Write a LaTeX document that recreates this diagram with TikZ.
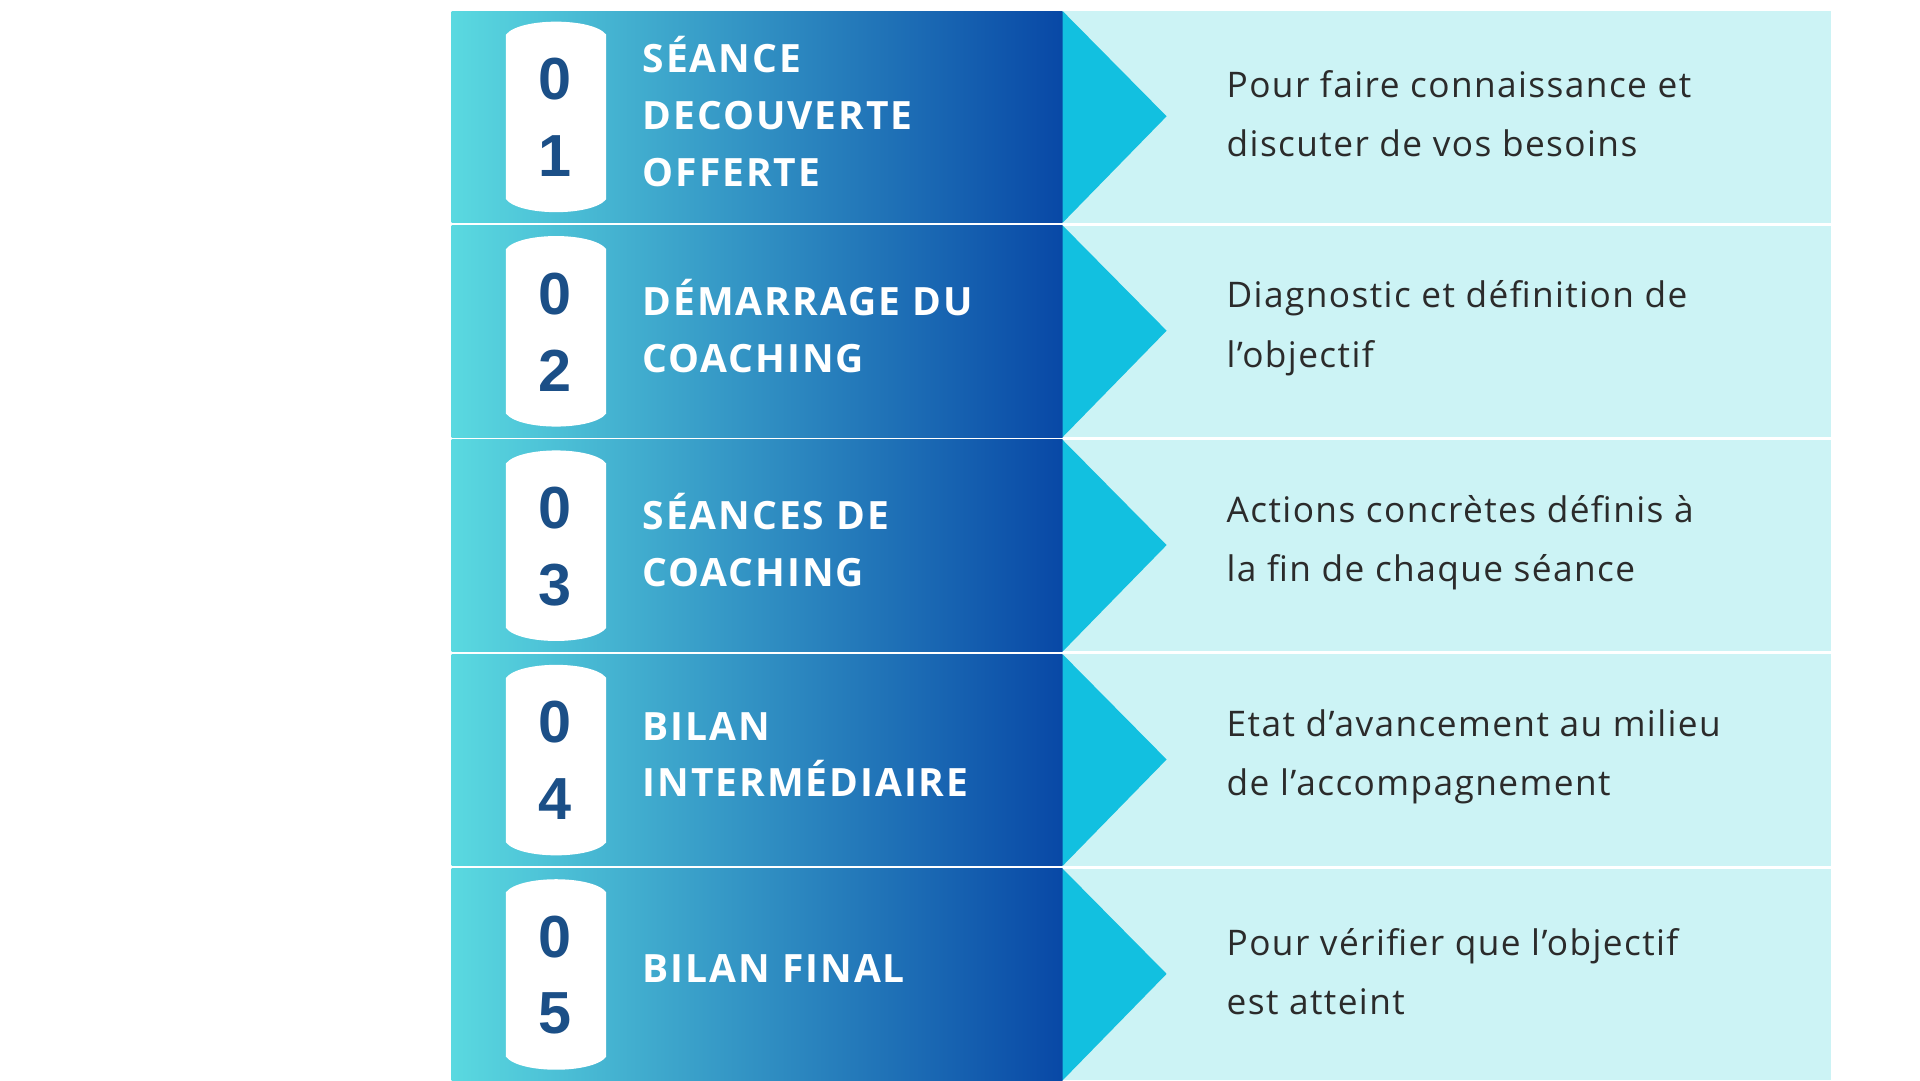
\documentclass[tikz,border=0pt]{standalone}
\usepackage{fontspec}
\setmainfont[LetterSpace=4]{Open Sans}
\newfontfamily\titlefont[LetterSpace=5]{Open Sans}
\newfontfamily\digitfont{Liberation Sans}
\definecolor{bandleft}{HTML}{5AD9E0}
\definecolor{bandright}{HTML}{0848A6}
\definecolor{tipcol}{HTML}{12C0E0}
\definecolor{panelcol}{HTML}{CCF3F5}
\definecolor{digitcol}{HTML}{1B4F87}
\definecolor{desccol}{HTML}{2B2B2B}
\tikzset{
  titletext/.style={anchor=west, text=white, font=\titlefont\bfseries\fontsize{31.5}{46}\selectfont, align=left},
  desctext/.style={anchor=west, text=desccol, font=\fontsize{28.5}{48}\selectfont, align=left},
  digittext/.style={text=digitcol, font=\digitfont\bfseries\fontsize{48}{48}\selectfont}
}
\begin{document}
\begin{tikzpicture}[x=1pt,y=-1pt]
  \useasboundingbox[fill=white] (0,0) rectangle (1552,873);

  \foreach \i/\title/\desc in {
      0/{SÉANCE\\DECOUVERTE\\OFFERTE}/{Pour faire connaissance et\\discuter de vos besoins},
      1/{DÉMARRAGE DU\\COACHING}/{Diagnostic et définition de\\l’objectif},
      2/{SÉANCES DE\\COACHING}/{Actions concrètes définis à\\la fin de chaque séance},
      3/{BILAN\\INTERMÉDIAIRE}/{Etat d’avancement au milieu\\de l’accompagnement},
      4/{BILAN FINAL}/{Pour vérifier que l’objectif\\est atteint}} {
    \pgfmathsetmacro{\top}{9+173.3*\i}
    \pgfmathsetmacro{\bot}{\top+171}
    \pgfmathsetmacro{\mid}{\top+85}
    \pgfmathtruncatemacro{\num}{\i+1}
    % right panel
    \fill[panelcol] (859,\top) rectangle (1480,\bot);
    % gradient band
    \shade[left color=bandleft, right color=bandright] (365,\top) rectangle (859,\bot);
    % arrow tip
    \fill[tipcol] (859,\top) -- (943,\mid) -- (859,\bot) -- cycle;
    % badge
    \fill[white] (409,\top+19) .. controls (420,\top+5) and (479,\top+5) .. (490,\top+19)
      -- (490,\bot-19) .. controls (479,\bot-5) and (420,\bot-5) .. (409,\bot-19) -- cycle;
    \node[digittext] (d0-\num) at (449,\top+55) {0};
    \node[digittext] (d1-\num) at (449,\top+117) {\num};
    \node[titletext] (t-\num) at (516,\mid-4) {\title};
    \node[desctext] (s-\num) at (988,\mid-2) {\desc};
  }
\end{tikzpicture}
\end{document}
